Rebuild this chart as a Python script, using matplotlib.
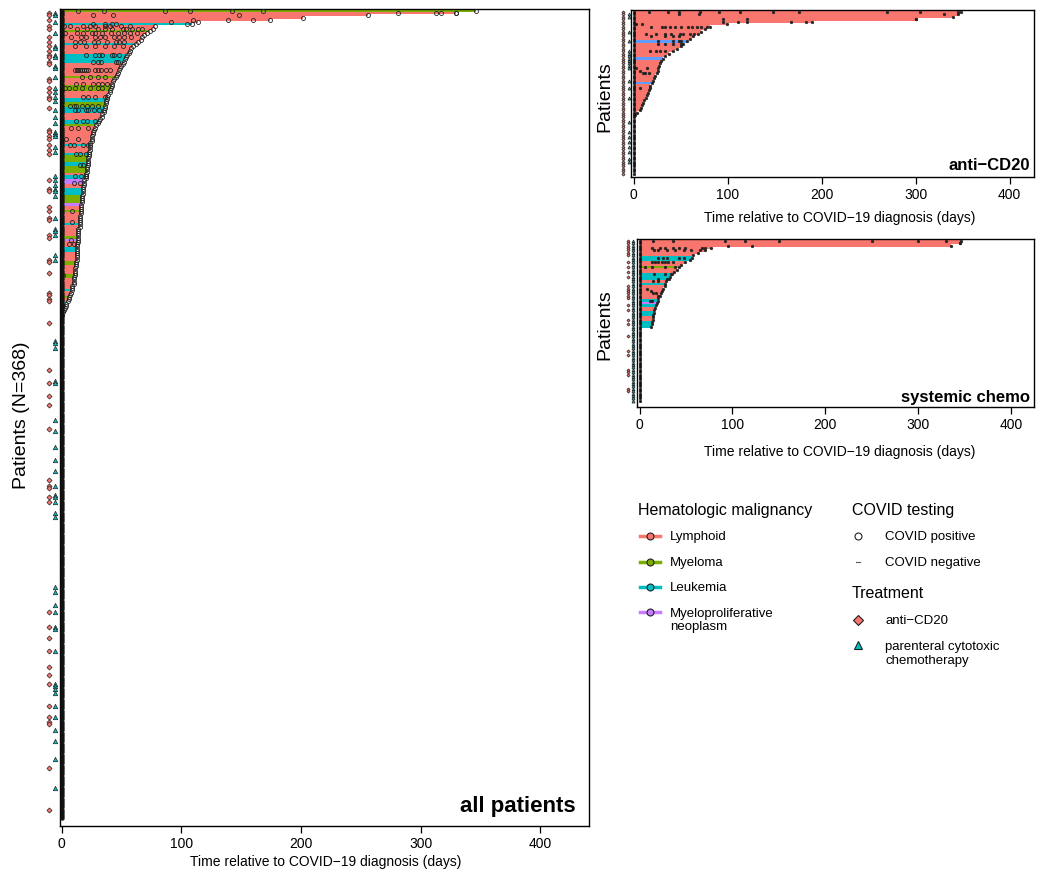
import matplotlib
matplotlib.use("Agg")
import matplotlib.pyplot as plt
from matplotlib.lines import Line2D

plt.rcParams['font.family'] = ['Liberation Sans', 'DejaVu Sans']

W, H = 1050, 887
COLORS = {"L": "#F8766D", "M": "#7CAE00", "K": "#00BFC4", "P": "#C77CFF", "B": "#619CFF"}
DIAMOND_FC = "#F8766D"
TRI_FC = "#00BFC4"

# ---------------- main panel data (all patients) ----------------
N_ALL = 368
main_type_runs = [("M", 1), ("L", 5), ("K", 1), ("L", 2), ("M", 1), ("L", 5), ("K", 1), ("L", 4),
                  ("K", 4), ("L", 6), ("M", 1), ("L", 3), ("M", 3), ("L", 3), ("K", 2), ("M", 2),
                  ("K", 3), ("L", 3), ("K", 2), ("M", 1), ("L", 8), ("K", 1), ("L", 3), ("K", 1),
                  ("M", 3), ("K", 2), ("M", 3), ("L", 1), ("K", 2), ("P", 2), ("L", 2), ("K", 3),
                  ("M", 4), ("P", 1), ("L", 2), ("M", 1), ("L", 5), ("K", 1), ("L", 5), ("M", 1),
                  ("P", 1), ("L", 3), ("K", 2), ("L", 4), ("M", 2), ("L", 4), ("M", 2), ("L", 5),
                  ("K", 1), ("L", 2), ("M", 1), ("L", 2), ("K", 1), ("M", 1), ("K", 1), ("L", 1),
                  ("K", 1), ("M", 1)]
main_days = [346, 330, 256, 202, 174, 114, 109,
             78, 76, 74, 71, 69, 67, 66, 64, 62, 60, 58,
             57, 56, 55, 54, 53, 52, 51, 50,
             49, 48, 47, 46, 45, 44, 43,
             42, 42, 41, 40, 40, 39, 38, 38,
             37, 37, 36, 36, 35, 35, 34, 34,
             32, 31, 30, 29, 28, 27, 26,
             26, 25, 25, 25, 24, 24, 24, 24,
             23, 23, 23, 22, 22, 22, 22,
             21, 21, 21, 20, 20, 20, 19, 19, 19, 18, 18, 18,
             18, 17, 17, 17, 17, 16, 16, 16, 16, 16, 15, 15, 15, 15, 15, 15,
             14, 14, 14, 14, 14, 14, 14, 13, 13, 13, 13, 13, 13, 13, 13,
             12, 12, 12, 11, 11, 11, 11, 10, 10, 10, 10, 9, 9, 9, 8,
             7, 6, 6, 5, 4, 4, 3, 2, 1, 0.5]
main_tests = [
    (0, 14), (0, 35), (0, 86), (0, 107), (0, 142), (0, 168),
    (1, 281), (1, 313), (1, 317), (1, 330),
    (2, 26), (2, 43), (2, 148),
    (4, 110), (4, 139), (4, 160),
    (5, 91),
    (6, 26), (6, 36), (6, 42), (6, 45), (6, 105),
    (7, 2), (7, 7), (7, 18), (7, 24), (7, 28), (7, 36), (7, 40), (7, 50), (7, 57),
    (8, 13), (8, 21), (8, 30), (8, 36), (8, 42), (8, 51), (8, 54), (8, 59), (8, 64), (8, 67),
    (10, 3), (10, 13), (10, 18), (10, 25), (10, 28), (10, 34), (10, 41), (10, 47), (10, 52), (10, 57), (10, 63),
    (12, 8), (12, 16), (12, 20), (12, 28), (12, 32), (12, 36), (12, 44), (12, 48), (12, 52), (12, 58),
    (14, 11), (14, 15), (14, 19), (14, 27), (14, 30), (14, 38), (14, 45), (14, 48), (14, 52),
    (16, 11), (16, 20), (16, 28), (16, 36), (16, 44), (16, 51),
    (20, 20), (20, 28), (20, 31), (20, 34), (20, 42), (20, 44), (20, 48),
    (23, 26), (23, 30), (23, 33), (23, 45), (23, 47),
    (27, 11), (27, 12.5), (27, 14), (27, 15.5), (27, 17), (27, 18.5), (27, 20), (27, 22), (27, 28),
    (27, 30), (27, 33), (27, 37), (27, 40),
    (30, 17), (30, 24), (30, 30), (30, 36),
    (33, 12), (33, 18), (33, 26), (33, 30), (33, 34), (33, 38),
    (35, 3), (35, 6), (35, 11), (35, 17), (35, 24), (35, 30), (35, 34),
    (39, 18), (39, 22), (39, 28), (39, 36),
    (43, 7), (43, 10), (43, 12), (43, 17), (43, 21), (43, 25), (43, 30),
    (45, 11), (45, 14), (45, 20), (45, 22), (45, 27), (45, 31),
    (50, 12), (50, 18), (50, 21), (50, 28),
    (53, 8), (53, 14), (53, 22),
    (58, 0.5), (58, 4), (58, 14),
    (61, 7), (61, 10), (61, 18), (61, 22),
    (65, 12), (65, 15), (65, 20),
    (70, 15), (70, 18),
    (75, 11), (75, 16), (75, 20),
    (78, 10), (78, 15),
    (91, 9), (96, 9), (104, 8), (106, 6), (106, 10), (120, 1.3),
]
main_cd20_rows = [1, 2, 4, 7, 8, 12, 14, 16, 18, 20, 21, 23, 24, 31, 32, 35, 37, 39, 40, 44,
                  54, 55, 57, 58, 61, 63, 65, 77, 81, 82, 89, 91, 94, 95, 102, 103, 113, 114,
                  119, 128, 129, 131, 132, 142, 163, 169, 175, 179, 190, 213, 216, 217, 221,
                  223, 273, 280, 285, 291, 298, 302, 306, 316, 321, 323, 324, 344, 363]
main_chemo_rows = [1, 2, 5, 10, 16, 17, 20, 21, 25, 26, 30, 35, 37, 39, 41, 45, 48, 51, 55, 56,
                   57, 62, 64, 75, 77, 79, 81, 82, 84, 94, 99, 100, 102, 111, 113, 150, 151, 153,
                   168, 169, 186, 191, 198, 204, 209, 216, 220, 221, 223, 228, 230, 262, 264,
                   270, 273, 280, 281, 291, 306, 307, 308, 310, 316, 321, 327, 332, 340, 353]

# ---------------- anti-CD20 panel data ----------------
N_CD20 = 67
cd20_type_runs = [("L", 12), ("B", 1), ("L", 6), ("B", 1), ("L", 9), ("B", 1), ("L", 13)]
cd20_days = [348, 345, 340, 300, 190, 99, 81, 76, 72, 69, 63, 60, 57, 53, 50, 46, 42, 38, 34, 31,
             29, 28, 27, 26, 26, 25, 23, 22, 21, 20, 18, 17, 16.5, 15, 14, 13, 11, 10, 9, 8, 7, 4, 2]
cd20_tests = [
    (0, 16), (0, 37), (0, 48), (0, 71), (0, 91), (0, 113), (0, 148), (0, 176), (0, 270), (0, 305), (0, 345),
    (1, 48), (1, 70), (1, 330),
    (3, 95), (3, 121), (3, 300),
    (4, 95), (4, 111), (4, 121), (4, 168), (4, 183),
    (5, 3), (5, 9),
    (6, 19), (6, 30), (6, 34), (6, 39), (6, 44), (6, 51), (6, 58), (6, 62), (6, 67), (6, 72), (6, 78),
    (9, 13), (9, 24), (9, 33), (9, 40), (9, 49), (9, 53), (9, 60), (9, 64),
    (10, 19), (10, 33), (10, 42), (10, 48),
    (12, 26), (12, 42), (12, 48), (12, 51),
    (13, 26), (13, 33), (13, 42), (13, 51),
    (16, 17), (16, 24), (16, 28), (16, 33),
    (23, 3), (23, 14), (24, 7), (25, 10), (25, 12), (25, 16),
    (31, 7),
]
cd20_chemo_rows = [1, 2, 8, 12, 16, 17, 18, 19, 20, 21, 22, 23, 28, 31, 35, 45, 49, 51, 53, 55, 57, 60, 61]

# ---------------- systemic chemo panel data ----------------
N_CHEMO = 68
chemo_type_runs = [("L", 7), ("K", 2), ("L", 2), ("M", 1), ("L", 2), ("K", 3), ("L", 1), ("K", 1),
                   ("L", 6), ("K", 1), ("P", 1), ("K", 1), ("L", 2), ("K", 2), ("L", 2), ("K", 3)]
chemo_days = [346, 345, 335, 77, 70, 63, 58, 56, 54, 49, 45, 43, 40, 37, 35, 33, 32, 29, 27, 27,
              25, 24, 23, 22, 20, 20, 19, 18, 17, 16, 16, 15, 14, 14, 13, 13, 12]
chemo_tests = [
    (0, 15), (0, 36), (0, 92), (0, 114), (0, 150), (0, 250), (0, 300), (0, 330),
    (1, 345), (2, 95), (2, 121),
    (3, 13), (3, 22), (3, 27), (3, 36), (3, 43), (3, 49), (3, 67), (3, 70),
    (4, 16), (4, 20), (4, 30), (4, 38), (4, 48), (4, 55), (4, 65),
    (7, 20), (7, 25), (7, 30), (7, 43), (7, 48),
    (9, 13), (9, 17), (9, 20), (9, 24), (9, 27), (9, 31), (9, 36),
    (11, 6), (11, 13), (11, 27), (11, 38),
    (14, 16), (14, 27), (14, 34),
    (16, 20), (16, 30), (17, 15), (17, 20),
    (20, 8), (21, 12), (22, 15), (22, 18), (23, 20),
    (25, 11), (25, 13),
]
chemo_cd20_rows = [0, 1, 2, 3, 4, 5, 6, 9, 11, 13, 15, 19, 20, 21, 22, 23, 24, 27, 29, 33, 35,
                   40, 46, 48, 54, 55, 56, 62, 63]

x_ticks = [0, 100, 200, 300, 400]


def expand(runs):
    out = []
    for code, cnt in runs:
        out.extend([code] * cnt)
    return out


def draw_panel(ax, n, runs, days, tests, cd20_rows, chemo_rows, xlim, ylim,
               x_cd20, x_chemo, open_circles, ms_test, ms_cd20, ms_tri, title, title_pos, title_fs):
    types = expand(runs)
    rows = list(range(len(days)))
    ax.barh(rows, days, left=0, height=1.0, color=[COLORS[t] for t in types], linewidth=0, zorder=1)
    if open_circles:
        kw = dict(marker='o', ms=ms_test, mfc='none', mec='#222222', mew=0.6, ls='none', zorder=3)
    else:
        kw = dict(marker='o', ms=ms_test, mfc='#222222', mec='#222222', mew=0.3, ls='none', zorder=3)
    ax.plot(days, rows, **kw)
    ax.plot([t[1] for t in tests], [t[0] for t in tests], **kw)
    # day-0 test of every patient: dense column forming a solid dark line
    ax.plot([0] * n, list(range(n)), marker='o', ms=ms_test * 0.9, mfc='#111111', mec='#111111',
            mew=0.4, ls='none', zorder=3)
    # treatment markers (outside plot region)
    ax.plot([x_cd20] * len(cd20_rows), cd20_rows, marker='D', ms=ms_cd20, mfc=DIAMOND_FC, mec='#222222',
            mew=0.5, ls='none', clip_on=False, zorder=4)
    ax.plot([x_chemo] * len(chemo_rows), chemo_rows, marker='^', ms=ms_tri, mfc=TRI_FC, mec='#222222',
            mew=0.5, ls='none', clip_on=False, zorder=4)
    ax.set_xlim(*xlim)
    ax.set_ylim(*ylim)
    ax.set_yticks([])
    ax.set_xticks(x_ticks)
    ax.tick_params(axis='x', direction='out', length=5, width=0.9, labelsize=10, pad=2, colors='black')
    for s in ax.spines.values():
        s.set_linewidth(1.0)
        s.set_color('black')
    ax.text(title_pos[0], title_pos[1], title, transform=ax.transAxes, ha='right', va='bottom',
            fontweight='bold', fontsize=title_fs)


fig = plt.figure(figsize=(W / 100, H / 100), dpi=100)


def axes_px(left, top, right, bottom):
    return fig.add_axes([left / W, 1 - bottom / H, (right - left) / W, (bottom - top) / H])


ax_main = axes_px(60, 10, 589, 827)
draw_panel(ax_main, N_ALL, main_type_runs, main_days, main_tests, main_cd20_rows, main_chemo_rows,
           (-1.4, 440.8), (370.5, -0.9), -10.4, -5.3, True, 2.9, 2.6, 3.2,
           "all patients", (0.975, 0.012), 16)

ax_cd20 = axes_px(631, 11, 1034, 178)
draw_panel(ax_cd20, N_CD20, cd20_type_runs, cd20_days, cd20_tests, list(range(N_CD20)), cd20_chemo_rows,
           (-2.7, 426), (67.3, -0.8), -11.2, -4.8, False, 2.0, 1.6, 2.2,
           "anti\u2212CD20", (0.99, 0.03), 12)

ax_chemo = axes_px(637, 240, 1034, 408)
draw_panel(ax_chemo, N_CHEMO, chemo_type_runs, chemo_days, chemo_tests, chemo_cd20_rows, list(range(N_CHEMO)),
           (-2.7, 424.4), (69.6, -0.8), -12.3, -7.0, False, 2.0, 1.6, 2.2,
           "systemic chemo", (0.99, 0.02), 12)


def ftext(x, y, s, **kw):
    fig.text(x / W, 1 - y / H, s, **kw)


XLAB = "Time relative to COVID\u221219 diagnosis (days)"
ftext(326, 862, XLAB, ha='center', va='center', fontsize=10)
ftext(840, 218, XLAB, ha='center', va='center', fontsize=10)
ftext(840, 452, XLAB, ha='center', va='center', fontsize=10)
ftext(22, 415, "Patients (N=368)", ha='center', va='center', rotation=90, fontsize=14)
ftext(605, 97, "Patients", ha='center', va='center', rotation=90, fontsize=14)
ftext(605, 325, "Patients", ha='center', va='center', rotation=90, fontsize=14)

# ---------------- legend ----------------
leg_malig = [("Lymphoid", "L", 537), ("Myeloma", "M", 563), ("Leukemia", "K", 588),
             ("Myeloproliferative\nneoplasm", "P", 613)]
ftext(638, 510, "Hematologic malignancy", ha='left', va='center', fontsize=11.5)
for label, code, y in leg_malig:
    fy = 1 - y / H
    fig.add_artist(Line2D([640 / W, 660 / W], [fy, fy], color=COLORS[code], lw=2.5))
    fig.add_artist(Line2D([650 / W], [fy], marker='o', ms=5, mfc=COLORS[code], mec='#222222', mew=0.8, ls='none'))
    if "\n" in label:
        ftext(670, y + 7.5, label, ha='left', va='center', fontsize=9.5, linespacing=1.15)
    else:
        ftext(670, y, label, ha='left', va='center', fontsize=9.5)

ftext(852, 510, "COVID testing", ha='left', va='center', fontsize=11.5)
fy = 1 - 537 / H
fig.add_artist(Line2D([858 / W], [fy], marker='o', ms=5, mfc='none', mec='#222222', mew=0.8, ls='none'))
ftext(885, 537, "COVID positive", ha='left', va='center', fontsize=9.5)
fy = 1 - 563 / H
fig.add_artist(Line2D([856 / W, 860 / W], [fy, fy], color='#555555', lw=0.8))
ftext(885, 563, "COVID negative", ha='left', va='center', fontsize=9.5)

ftext(852, 594, "Treatment", ha='left', va='center', fontsize=11.5)
fy = 1 - 621 / H
fig.add_artist(Line2D([858 / W], [fy], marker='D', ms=5, mfc=DIAMOND_FC, mec='#222222', mew=0.8, ls='none'))
ftext(885, 621, "anti\u2212CD20", ha='left', va='center', fontsize=9.5)
fy = 1 - 646 / H
fig.add_artist(Line2D([858 / W], [fy], marker='^', ms=6, mfc=TRI_FC, mec='#222222', mew=0.8, ls='none'))
ftext(885, 654, "parenteral cytotoxic\nchemotherapy", ha='left', va='center', fontsize=9.5, linespacing=1.15)

fig.savefig("out.png", dpi=100)
